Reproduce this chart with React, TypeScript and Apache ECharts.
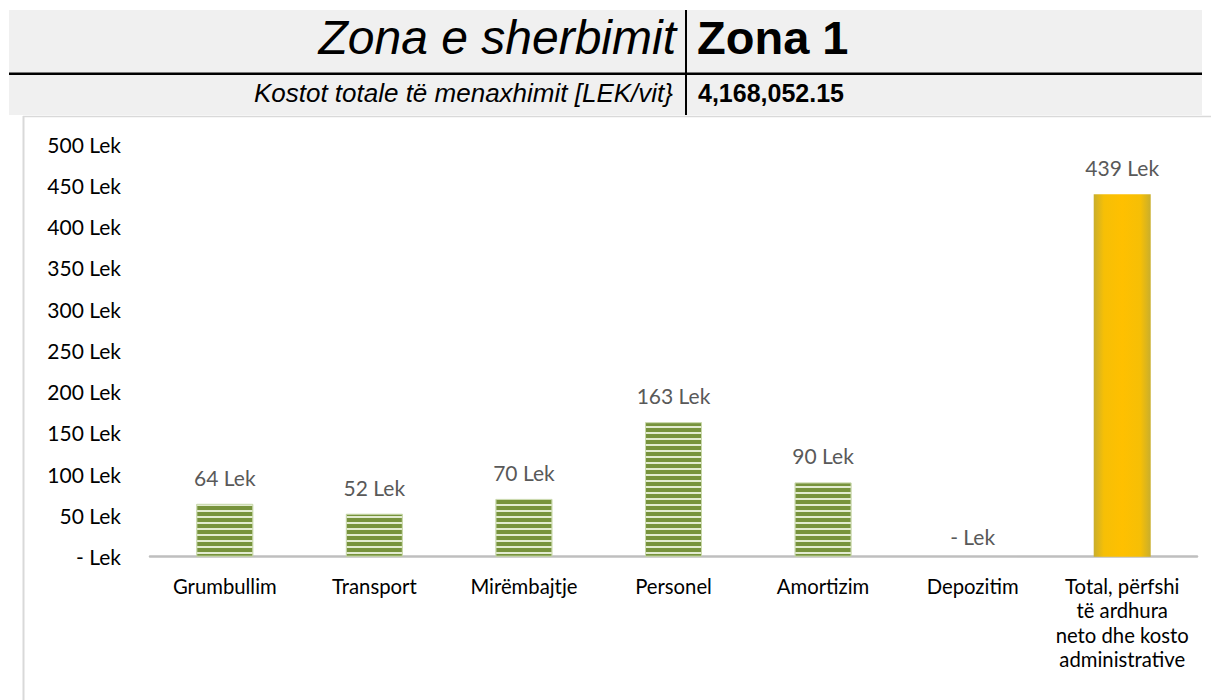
import React, { useEffect, useRef } from "react";
import * as echarts from "echarts";

const categories = [
  "Grumbullim",
  "Transport",
  "Mirëmbajtje",
  "Personel",
  "Amortizim",
  "Depozitim",
  "Total, përfshi\ntë ardhura\nneto dhe kosto\nadministrative",
];
const values = [64, 52, 70, 163, 90, 0, 439];
const totalIndex = 6;
const yTicks = { min: 0, max: 500, interval: 50 };
const headerLabel = "Zona e sherbimit";
const headerValue = "Zona 1";
const costLabel = "Kostot totale të menaxhimit [LEK/vit}";
const costValue = "4,168,052.15";

const fmtLek = (v: number) => (v === 0 ? "- Lek" : `${v} Lek`);

export default function App() {
  const ref = useRef<HTMLDivElement>(null);
  useEffect(() => {
    if (!ref.current) return;
    const chart = echarts.init(ref.current, null, { renderer: "svg" });
    const green = "#77933C";
    const stripeDecal = {
      symbol: "rect",
      symbolSize: 1,
      color: "#e2ebd0",
      dashArrayX: [1, 0],
      dashArrayY: [1.8, 3.4],
      rotation: 0,
    };
    const totalGrad = new echarts.graphic.LinearGradient(0, 0, 1, 0, [
      { offset: 0, color: "#c9ae2c" },
      { offset: 0.18, color: "#f6bf06" },
      { offset: 0.5, color: "#ffc000" },
      { offset: 0.82, color: "#f6bf06" },
      { offset: 1, color: "#c9ae2c" },
    ]);
    const data = values.map((v, i) =>
      i === totalIndex
        ? { value: v, itemStyle: { color: totalGrad } }
        : v === 0
        ? { value: v, itemStyle: { color: green, borderWidth: 0 }, label: { distance: 10 } }
        : {
            value: v,
            itemStyle: {
              color: green,
              decal: stripeDecal,
              borderColor: "rgba(200,215,170,0.7)",
              borderWidth: 1,
            },
          }
    );
    const font = "Liberation Sans, Arial, sans-serif";
    const chartFont = "Lato";
    chart.setOption({
      animation: false,
      backgroundColor: "#ffffff",
      grid: { left: 150, right: 14, top: 144, bottom: 143.3, containLabel: false },
      xAxis: {
        type: "category",
        data: categories,
        axisLine: { show: true, lineStyle: { color: "#bfbfbf", width: 2.5 } },
        axisTick: { show: false },
        axisLabel: {
          interval: 0,
          margin: 17,
          color: "#000000",
          fontFamily: chartFont,
          fontSize: 20.3,
          lineHeight: 24.4,
          align: "center",
        },
      },
      yAxis: {
        type: "value",
        min: yTicks.min,
        max: yTicks.max,
        interval: yTicks.interval,
        axisLine: { show: false },
        axisTick: { show: false },
        splitLine: { show: false },
        axisLabel: {
          margin: 29,
          color: "#000000",
          fontFamily: chartFont,
          fontSize: 21,
          formatter: (v: number) => fmtLek(v),
        },
      },
      series: [
        {
          type: "bar",
          data,
          barWidth: 57,
          label: {
            show: true,
            position: "top",
            distance: 16,
            color: "#595959",
            fontFamily: chartFont,
            fontSize: 21,
            lineHeight: 21,
            formatter: (p: any) => fmtLek(p.value),
          },
        },
      ],
      graphic: [
        {
          type: "rect",
          silent: true,
          shape: { x: 9, y: 10, width: 1193, height: 105 },
          style: { fill: "#f0f0f0" },
        },
        {
          type: "line",
          silent: true,
          shape: { x1: 9, y1: 73.8, x2: 1202, y2: 73.8 },
          style: { stroke: "#000000", lineWidth: 2.5 },
        },
        {
          type: "line",
          silent: true,
          shape: { x1: 686, y1: 10, x2: 686, y2: 115 },
          style: { stroke: "#000000", lineWidth: 2 },
        },
        {
          type: "line",
          silent: true,
          shape: { x1: 23.5, y1: 116, x2: 23.5, y2: 700 },
          style: { stroke: "#d9d9d9", lineWidth: 2 },
        },
        {
          type: "line",
          silent: true,
          shape: { x1: 23, y1: 116.5, x2: 1211, y2: 116.5 },
          style: { stroke: "#d9d9d9", lineWidth: 1.5 },
        },
        {
          type: "text",
          silent: true,
          x: 676,
          y: 37,
          style: {
            text: headerLabel,
            fill: "#000000",
            font: `italic 48px ${font}`,
            align: "right",
            verticalAlign: "middle",
          },
        },
        {
          type: "text",
          silent: true,
          x: 697,
          y: 37,
          style: {
            text: headerValue,
            fill: "#000000",
            font: `bold 47px ${font}`,
            align: "left",
            verticalAlign: "middle",
          },
        },
        {
          type: "text",
          silent: true,
          x: 673,
          y: 93,
          style: {
            text: costLabel,
            fill: "#000000",
            font: `italic 26px ${font}`,
            align: "right",
            verticalAlign: "middle",
          },
        },
        {
          type: "text",
          silent: true,
          x: 698,
          y: 93,
          style: {
            text: costValue,
            fill: "#000000",
            font: `bold 25px ${font}`,
            align: "left",
            verticalAlign: "middle",
          },
        },
      ],
    });
    return () => chart.dispose();
  }, []);
  return (
    <div
      ref={ref}
      style={{ position: "absolute", left: 0, top: 0, width: 1211, height: 700 }}
    />
  );
}
